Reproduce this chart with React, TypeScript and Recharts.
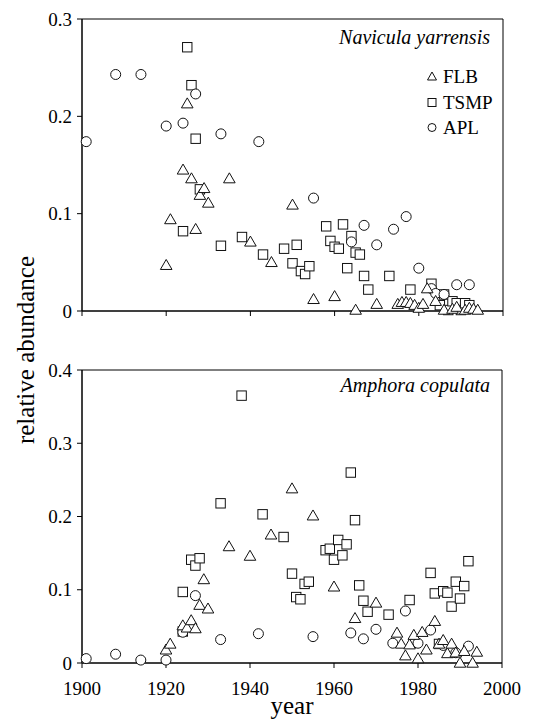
import React from "react";
import { ReferenceArea, Scatter, ScatterChart, XAxis, YAxis } from "recharts";

// relative abundance by core year, [year, value]
const navFLB: [number, number][] = [
  [1920, 0.047], [1921, 0.094], [1924, 0.145], [1925, 0.213], [1926, 0.136], [1927, 0.084],
  [1928, 0.119], [1929, 0.126], [1930, 0.111], [1935, 0.136], [1940, 0.071], [1945, 0.05],
  [1950, 0.109], [1955, 0.012], [1960, 0.015], [1965, 0.001], [1970, 0.007], [1975, 0.007],
  [1976, 0.009], [1977, 0.009], [1978, 0.008], [1979, 0.006], [1980, 0.003], [1981, 0.007],
  [1982, 0.023], [1984, 0.01], [1986, 0.001], [1988, 0.002], [1989, 0.004], [1991, 0.001],
  [1992, 0.003], [1993, 0.002], [1994, 0.001],
];
const navTSMP: [number, number][] = [
  [1924, 0.082], [1925, 0.271], [1926, 0.232], [1927, 0.177], [1928, 0.125], [1933, 0.067],
  [1938, 0.076], [1943, 0.058], [1948, 0.064], [1950, 0.049], [1951, 0.068], [1952, 0.041],
  [1953, 0.038], [1954, 0.046], [1958, 0.087], [1959, 0.072], [1960, 0.066], [1961, 0.064],
  [1962, 0.089], [1963, 0.044], [1964, 0.077], [1965, 0.06], [1966, 0.058], [1967, 0.036],
  [1968, 0.022], [1973, 0.036], [1978, 0.022], [1983, 0.028], [1985, 0.006], [1986, 0.017],
  [1987, 0.001], [1988, 0.01], [1989, 0.008], [1990, 0.001], [1991, 0.008], [1992, 0.006],
];
const navAPL: [number, number][] = [
  [1901, 0.174], [1908, 0.243], [1914, 0.243], [1920, 0.19], [1924, 0.193], [1927, 0.223],
  [1933, 0.182], [1942, 0.174], [1955, 0.116], [1964, 0.071], [1967, 0.088], [1970, 0.068],
  [1974, 0.084], [1977, 0.097], [1980, 0.044], [1983, 0.023], [1984, 0.018], [1986, 0.017],
  [1989, 0.027], [1992, 0.027],
];

const ampFLB: [number, number][] = [
  [1920, 0.018], [1921, 0.026], [1924, 0.051], [1925, 0.048], [1926, 0.058], [1927, 0.047],
  [1928, 0.079], [1929, 0.114], [1930, 0.074], [1935, 0.159], [1940, 0.146], [1945, 0.175],
  [1950, 0.238], [1955, 0.201], [1960, 0.104], [1965, 0.061], [1970, 0.082], [1975, 0.041],
  [1976, 0.026], [1977, 0.01], [1978, 0.025], [1979, 0.038], [1980, 0.006], [1981, 0.042],
  [1982, 0.018], [1984, 0.057], [1985, 0.026], [1986, 0.031], [1987, 0.013], [1988, 0.026],
  [1989, 0.014], [1990, 0], [1991, 0.016], [1993, 0], [1994, 0.015],
];
const ampTSMP: [number, number][] = [
  [1924, 0.097], [1924, 0.043], [1926, 0.141], [1927, 0.133], [1928, 0.143], [1933, 0.218],
  [1938, 0.365], [1943, 0.203], [1948, 0.172], [1950, 0.122], [1951, 0.09], [1952, 0.087],
  [1953, 0.108], [1954, 0.111], [1958, 0.154], [1959, 0.156], [1960, 0.141], [1961, 0.168],
  [1962, 0.147], [1963, 0.162], [1964, 0.26], [1965, 0.195], [1966, 0.106], [1967, 0.085],
  [1968, 0.07], [1973, 0.066], [1978, 0.086], [1983, 0.123], [1984, 0.095], [1985, 0.026],
  [1986, 0.098], [1987, 0.096], [1988, 0.077], [1989, 0.111], [1990, 0.088], [1991, 0.105],
  [1992, 0.139],
];
const ampAPL: [number, number][] = [
  [1901, 0.006], [1908, 0.012], [1914, 0.004], [1920, 0.004], [1924, 0.042], [1927, 0.092],
  [1933, 0.032], [1942, 0.04], [1955, 0.036], [1964, 0.041], [1967, 0.033], [1970, 0.046],
  [1974, 0.027], [1977, 0.071], [1980, 0.027], [1983, 0.045], [1986, 0.024], [1989, 0.014],
  [1992, 0.023],
];

const yearTicks = [1900, 1920, 1940, 1960, 1980, 2000];
const navTicks = [0, 0.1, 0.2, 0.3];
const ampTicks = [0, 0.1, 0.2, 0.3, 0.4];
const sites = ["FLB", "TSMP", "APL"];

const FONT = "Liberation Serif, Times New Roman, serif";
const INK = "#111";

const toPts = (rows: [number, number][]) => rows.map(([year, value]) => ({ year, value }));

const Tri = ({ cx, cy }: any) => (
  <path
    d={`M${cx},${cy - 5.8}L${cx + 5.8},${cy + 4.2}L${cx - 5.8},${cy + 4.2}Z`}
    fill="#fff"
    stroke={INK}
    strokeWidth={1}
  />
);
const Sq = ({ cx, cy }: any) => (
  <rect x={cx - 4.7} y={cy - 4.7} width={9.4} height={9.4} fill="#fff" stroke={INK} strokeWidth={1} />
);
const Circ = ({ cx, cy }: any) => (
  <circle cx={cx} cy={cy} r={5} fill="#fff" stroke={INK} strokeWidth={1} />
);

const tickStyle = { fontSize: 19, fill: "#000", fontFamily: FONT };
const fmtY = (v: number) => (v === 0 ? "0" : v.toFixed(1));

function Panel({
  flb,
  tsmp,
  apl,
  yMax,
  yTicks,
  height,
  margin,
  xHeight,
  showYears,
}: {
  flb: [number, number][];
  tsmp: [number, number][];
  apl: [number, number][];
  yMax: number;
  yTicks: number[];
  height: number;
  margin: { top: number; right: number; bottom: number; left: number };
  xHeight: number;
  showYears: boolean;
}) {
  return (
    <ScatterChart width={542} height={height} margin={margin} style={{ fontFamily: FONT }}>
      <XAxis
        type="number"
        dataKey="year"
        domain={[1900, 2000]}
        ticks={yearTicks}
        height={xHeight}
        tickSize={5}
        tickMargin={14}
        tick={tickStyle}
        tickFormatter={(v) => (showYears ? String(v) : "")}
        stroke="#000"
        label={
          showYears
            ? { value: "year", position: "insideBottom", offset: 5, fontSize: 25, fill: "#000", fontFamily: FONT }
            : undefined
        }
      />
      <YAxis
        type="number"
        dataKey="value"
        domain={[0, yMax]}
        ticks={yTicks}
        width={82}
        tickSize={5}
        tickMargin={5}
        tick={tickStyle}
        tickFormatter={fmtY}
        stroke="#000"
      />
      <ReferenceArea x1={1900} x2={2000} y1={0} y2={yMax} fill="none" stroke="#000" strokeWidth={1} />
      <Scatter name="TSMP" data={toPts(tsmp)} shape={Sq} isAnimationActive={false} />
      <Scatter name="APL" data={toPts(apl)} shape={Circ} isAnimationActive={false} />
      <Scatter name="FLB" data={toPts(flb)} shape={Tri} isAnimationActive={false} />
    </ScatterChart>
  );
}

const legendIcon = (name: string) => {
  if (name === "FLB") return <path d="M5,1L9.5,9L0.5,9Z" fill="#fff" stroke={INK} />;
  if (name === "TSMP") return <rect x={1} y={1.5} width={8} height={8} fill="#fff" stroke={INK} />;
  return <circle cx={5} cy={5.5} r={4} fill="#fff" stroke={INK} />;
};

export default function App() {
  return (
    <div
      style={{
        position: "absolute",
        top: 0,
        left: 0,
        width: 542,
        height: 719,
        background: "#fff",
        fontFamily: FONT,
        overflow: "hidden",
      }}
    >
      <div style={{ position: "absolute", top: 0, left: 0 }}>
        <Panel
          flb={navFLB}
          tsmp={navTSMP}
          apl={navAPL}
          yMax={0.3}
          yTicks={navTicks}
          height={330}
          margin={{ top: 19, right: 39, bottom: 0, left: 0 }}
          xHeight={19}
          showYears={false}
        />
      </div>
      <div style={{ position: "absolute", top: 340, left: 0 }}>
        <Panel
          flb={ampFLB}
          tsmp={ampTSMP}
          apl={ampAPL}
          yMax={0.4}
          yTicks={ampTicks}
          height={379}
          margin={{ top: 30, right: 40, bottom: 0, left: 0 }}
          xHeight={56}
          showYears={true}
        />
      </div>

      <div style={{ position: "absolute", right: 52, top: 26, fontSize: 20, fontStyle: "italic" }}>
        Navicula yarrensis
      </div>
      <div style={{ position: "absolute", right: 52, top: 374, fontSize: 20, fontStyle: "italic" }}>
        Amphora copulata
      </div>

      <div style={{ position: "absolute", left: 427, top: 64, fontSize: 19, lineHeight: "25.5px" }}>
        {sites.map((s) => (
          <div key={s} style={{ display: "flex", alignItems: "center" }}>
            <svg width={11} height={11} style={{ marginRight: 5 }}>
              {legendIcon(s)}
            </svg>
            <span>{s}</span>
          </div>
        ))}
      </div>

      <svg width={60} height={719} style={{ position: "absolute", left: 0, top: 0, fontFamily: FONT }}>
        <text
          x={25}
          y={350}
          transform="rotate(-90, 25, 350)"
          textAnchor="middle"
          dominantBaseline="central"
          fontSize={25}
          fill="#000"
        >
          relative abundance
        </text>
      </svg>
    </div>
  );
}
